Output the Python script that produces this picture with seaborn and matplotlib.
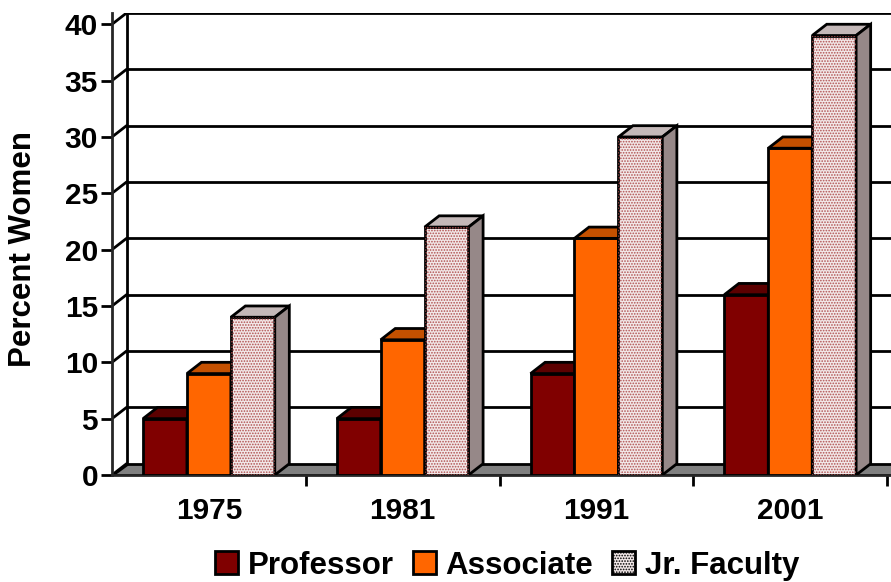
import seaborn as sns
import matplotlib.pyplot as plt
import pandas as pd
import numpy as np
from matplotlib.patches import Polygon, Patch, Rectangle

sns.set_style("ticks")
plt.rcParams["font.family"] = ["Liberation Sans", "DejaVu Sans"]
plt.rcParams["font.weight"] = "bold"
plt.rcParams["text.color"] = "black"
plt.rcParams["xtick.color"] = "black"
plt.rcParams["ytick.color"] = "black"
plt.rcParams["axes.labelcolor"] = "black"
plt.rcParams["hatch.linewidth"] = 0.8

# data
years = ["1975", "1981", "1991", "2001"]
ranks = ["Professor", "Associate", "Jr. Faculty"]
professor = [5, 5, 9, 16]
associate = [9, 12, 21, 29]
jr_faculty = [14, 22, 30, 39]

data = pd.DataFrame({
    "Year": years * 3,
    "Rank": [r for r in ranks for _ in years],
    "Percent": professor + associate + jr_faculty,
})

front = {"Professor": "#800000", "Associate": "#FF6600", "Jr. Faculty": "#f2e8e8"}
top = {"Professor": "#5c0000", "Associate": "#c45000", "Jr. Faculty": "#c4b8b8"}
side = {"Professor": "#4a0000", "Associate": "#a04000", "Jr. Faculty": "#968888"}

# pseudo 3D depth in data units
dx, dy = 0.075, 1.0
xmax = 3.52

fig = plt.figure(figsize=(8.91, 5.82), dpi=100)
ax = fig.add_axes([112 / 891, 107 / 582, 779 / 891, 462 / 582])

sns.barplot(data=data, x="Year", y="Percent", hue="Rank", palette=front,
            saturation=1, width=0.68, edgecolor="black", linewidth=2,
            legend=False, ax=ax)

ax.set_xlim(-0.5, xmax)
ax.set_ylim(0, 41)

# back wall, left wall and floor
ax.add_patch(Polygon([(-0.5, 0), (xmax + 1, 0), (xmax + 1, dy), (-0.5 + dx, dy)],
                     facecolor="#808080", edgecolor="black", lw=2, zorder=1))
for v in range(5, 45, 5):
    ax.plot([-0.5 + dx, xmax + 1], [v + dy, v + dy], color="black", lw=2, zorder=1)
for v in range(0, 45, 5):
    ax.plot([-0.5, -0.5 + dx], [v, v + dy], color="black", lw=2, zorder=1)
ax.plot([-0.5 + dx, -0.5 + dx], [dy, 40 + dy], color="black", lw=2, zorder=1)

# top and side faces of every bar
for i, rank in enumerate(ranks):
    for bar in ax.containers[i]:
        x0 = bar.get_x()
        w = bar.get_width()
        h = bar.get_height()
        z = 3 + i
        bar.set_zorder(z)
        ax.add_patch(Polygon([(x0, h), (x0 + dx, h + dy), (x0 + w + dx, h + dy), (x0 + w, h)],
                             facecolor=top[rank], edgecolor="black", lw=2, zorder=z))
        ax.add_patch(Polygon([(x0 + w, 0), (x0 + w, h), (x0 + w + dx, h + dy), (x0 + w + dx, dy)],
                             facecolor=side[rank], edgecolor="black", lw=2, zorder=z))
        if rank == "Jr. Faculty":
            ax.add_patch(Rectangle((x0, 0), w, h, fill=False, hatch="......",
                                   edgecolor="#b05050", lw=0, zorder=z + 0.1))

# axes styling
sns.despine(ax=ax, top=True, right=True)
for s in ["left", "bottom"]:
    ax.spines[s].set_linewidth(2)
ax.set_yticks(range(0, 45, 5))
ax.tick_params(axis="y", length=8, width=2, labelsize=21.5, pad=2)
ax.tick_params(axis="x", which="major", length=0, labelsize=21.5, pad=16)
ax.set_xticks([0.5, 1.5, 2.5, 3.5], minor=True)
ax.tick_params(axis="x", which="minor", length=8, width=2)
for lab in ax.get_xticklabels() + ax.get_yticklabels():
    lab.set_fontweight("bold")
ax.set_xlabel("")
ax.set_ylabel("Percent Women", fontsize=22.5, fontweight="bold")
ax.yaxis.set_label_coords(-0.095, 0.49)

handles = [Patch(facecolor=front[r], edgecolor="black", lw=2,
                 hatch="......" if r == "Jr. Faculty" else None) for r in ranks]
fig.legend(handles, ranks, loc="center", bbox_to_anchor=(0.569, 0.028),
           ncol=3, frameon=False, handlelength=0.75, handleheight=0.75,
           handletextpad=0.3, columnspacing=0.6, prop={"weight": "bold", "size": 22.5})

plt.savefig("out.png", dpi=100)
plt.close()
